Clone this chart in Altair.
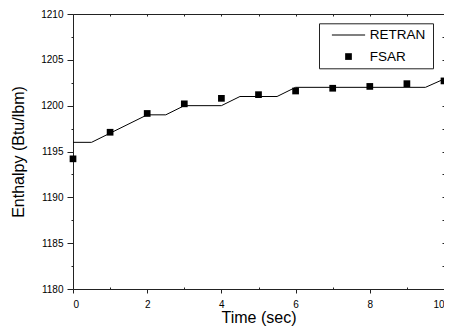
import altair as alt
import pandas as pd

# RETRAN calculation (piecewise line)
retran_time = [0, 0.5, 2, 2.5, 3, 4, 4.5, 5.5, 6, 9.5, 10]
retran_enthalpy = [1196, 1196, 1199, 1199, 1200, 1200, 1201, 1201, 1202, 1202, 1202.9]

# FSAR values (square markers)
fsar_time = [0, 1, 2, 3, 4, 5, 6, 7, 8, 9, 10]
fsar_enthalpy = [1194.2, 1197.1, 1199.15, 1200.2, 1200.8, 1201.2, 1201.6, 1201.9, 1202.1, 1202.4, 1202.7]

series_names = ["RETRAN", "FSAR"]

x_major = [0, 2, 4, 6, 8, 10]
x_minor = [1, 3, 5, 7, 9]
x_all = [0, 1, 2, 3, 4, 5, 6, 7, 8, 9, 10]
y_major = [1180, 1185, 1190, 1195, 1200, 1205, 1210]
y_minor = [1182.5, 1187.5, 1192.5, 1197.5, 1202.5, 1207.5]
y_all = [1180, 1182.5, 1185, 1187.5, 1190, 1192.5, 1195, 1197.5, 1200, 1202.5, 1205, 1207.5, 1210]

retran_df = pd.DataFrame({"t": retran_time, "h": retran_enthalpy, "series": "RETRAN"})
fsar_df = pd.DataFrame({"t": fsar_time, "h": fsar_enthalpy, "series": "FSAR"})

FONT = "Liberation Sans"
W, H = 371, 275
xs = alt.Scale(domain=[0, 10], nice=False, zero=False)
ys = alt.Scale(domain=[1180, 1210], nice=False, zero=False)

common_axis = dict(domain=False, grid=False, tickColor="#222", tickWidth=1,
                   labelFont=FONT, labelFontSize=10, labelColor="black",
                   titleFont=FONT, titleFontSize=16, titleFontWeight="normal", titleColor="black")

line = alt.Chart(retran_df).mark_line(color="black", strokeWidth=1, clip=False).encode(
    x=alt.X("t:Q", scale=xs, axis=alt.Axis(orient="bottom", values=x_major, format="d",
                                           title="Time (sec)", tickSize=4, labelPadding=6,
                                           titleX=W / 2, titleY=33.5, titleAlign="center",
                                           titleBaseline="alphabetic", **common_axis)),
    y=alt.Y("h:Q", scale=ys, axis=alt.Axis(orient="left", values=y_major, format="d",
                                           title="Enthalpy (Btu/lbm)", tickSize=6, labelPadding=4,
                                           titleX=-47, titleY=H / 2, titleAngle=270,
                                           titleAlign="center", titleBaseline="bottom",
                                           **common_axis)),
)

pts = alt.Chart(fsar_df).mark_point(filled=True, size=45, color="black", opacity=1,
                                    strokeWidth=0, clip=False).encode(
    x=alt.X("t:Q", scale=xs, axis=alt.Axis(orient="bottom", values=x_minor, labels=False,
                                           tickSize=2, offset=-2, title=None, **common_axis)),
    y=alt.Y("h:Q", scale=ys, axis=alt.Axis(orient="left", values=y_minor, labels=False,
                                           tickSize=2, title=None, **common_axis)),
    shape=alt.Shape("series:N",
                    scale=alt.Scale(domain=series_names,
                                    range=["M-4.95,-0.15H4.95V0.15H-4.95Z", "square"]),
                    legend=alt.Legend(orient="none", legendX=246, legendY=9.3,
                                      title=" ", titleOrient="right", titlePadding=3,
                                      titleFontSize=13, titleFont=FONT,
                                      strokeColor="#222", fillColor="white", padding=5,
                                      labelFont=FONT, labelFontSize=13.5, labelColor="black",
                                      rowPadding=6.5, symbolSize=45, symbolOffset=17.75,
                                      symbolFillColor="black", labelOffset=14.5)),
)

frame = alt.Chart(retran_df).mark_line(opacity=0).encode(
    x=alt.X("t:Q", scale=xs, axis=alt.Axis(orient="top", values=x_all, labels=False,
                                           tickSize=2, offset=-2, title=None, **common_axis)),
    y=alt.Y("h:Q", scale=ys, axis=alt.Axis(orient="right", values=y_all, labels=False,
                                           tickSize=2, offset=-2, title=None, **common_axis)),
)

chart = alt.layer(line, pts, frame).resolve_axis(x="independent", y="independent").properties(
    width=W, height=H,
    autosize=alt.AutoSizeParams(type="none"),
    padding={"left": 65, "top": 6, "right": 0, "bottom": 37},
    background="white",
).configure_view(stroke="#222", strokeWidth=1)

chart.save("out.html", embed_options={"renderer": "svg", "actions": False})
